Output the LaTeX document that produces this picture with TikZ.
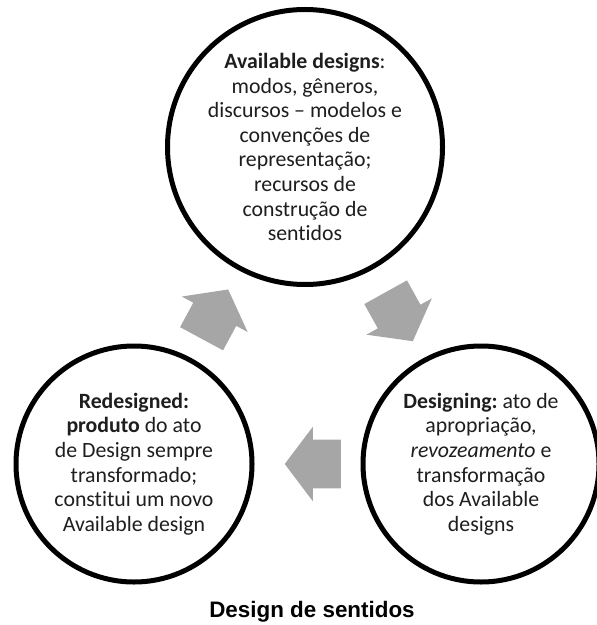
\documentclass[tikz,border=0pt]{standalone}
\usepackage{fontspec}
\setmainfont{Carlito}[Ligatures=NoCommon]
\newfontfamily\captionfont{Liberation Sans}
\usepackage{tikz}
\usetikzlibrary{shapes.arrows}
\usepackage{xcolor}
\definecolor{cyclegray}{RGB}{166,166,166}
\definecolor{textdark}{RGB}{30,30,30}
\newcommand{\ringwidth}{2.5pt}
\frenchspacing
\tikzset{
    stage/.style={draw, circle, fill=white, line width=\ringwidth, align=center,
        text=textdark, font=\fontsize{10.9}{12.3}\selectfont, inner sep=0pt},
    big-stage/.style={stage, minimum size=137.5pt},
    small-stage/.style={stage, minimum size=118pt},
    cycle-arrow/.style={single arrow, fill=cyclegray, draw=none, sloped, allow upside down,
        anchor=tail, inner xsep=0pt, inner ysep=12pt, minimum height=28pt,
        single arrow head extend=6.5pt, single arrow tip angle=106},
}

\begin{document}
\begin{tikzpicture}[x=0.5pt, y=-0.5pt]
            \useasboundingbox (0,0) rectangle (597,625);

            \node[big-stage] (available) at (305,147)
                {\textbf{Available designs}:\\ modos, gêneros,\\ discursos -- modelos e\\ convenções de\\
                 representação;\\ recursos de\\ construção de\\ sentidos};
            \node[small-stage] (redesigned) at (134,464)
                {\textbf{Redesigned:}\\ \textbf{produto} do ato\\ de Design sempre\\ transformado;\\
                 constitui um novo\\ Available design};
            \node[small-stage] (designing) at (481,464)
                {\textbf{Designing:} ato de\\ apropriação,\\ \textit{revozeamento} e\\ transformação\\
                 dos Available\\ designs};

            % the cycle
            \path (redesigned.center) -- node[cycle-arrow, pos=0.394] (to-available) {} (available.center);
            \path (available.center) -- node[cycle-arrow, pos=0.457] (to-designing) {} (designing.center);
            \path (designing.center) -- node[cycle-arrow, pos=0.403] (to-redesigned) {} (redesigned.center);

            \node[anchor=base, font=\captionfont\bfseries\fontsize{11.2}{13}\selectfont] (caption) at (312,617)
                {Design de sentidos};
          \end{tikzpicture}
\end{document}
